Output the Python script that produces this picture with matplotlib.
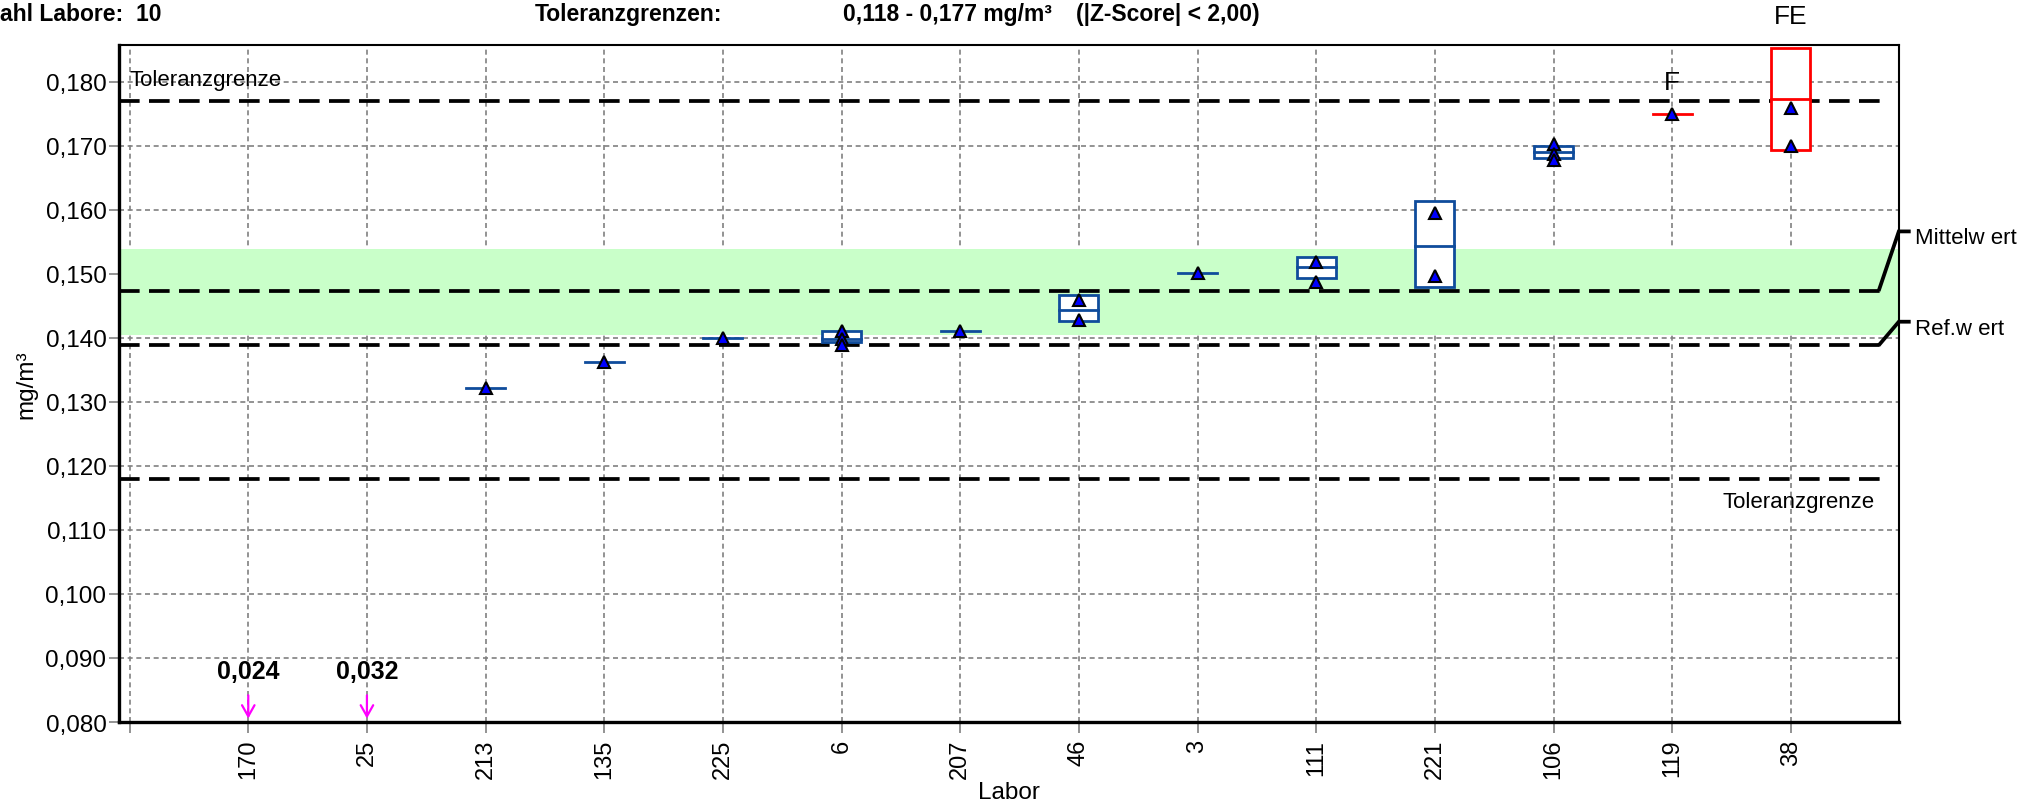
import matplotlib
matplotlib.use("Agg")
import matplotlib.pyplot as plt
from matplotlib.ticker import FixedLocator, FuncFormatter

# ---------------- data ----------------
labs = ['170', '25', '213', '135', '225', '6', '207', '46', '3', '111', '221', '106', '119', '38']
values = [
    [0.024], [0.032], [0.1322], [0.1362], [0.1399],
    [0.1411, 0.1398, 0.1388], [0.1411], [0.1459, 0.1428], [0.1501],
    [0.1518, 0.1487], [0.1594, 0.1497], [0.1702, 0.1687, 0.1677],
    [0.1750], [0.1759, 0.1700],
]
box_low  = [None, None, 0.1322, 0.1362, 0.1399, 0.1393, 0.1411, 0.1426, 0.1501, 0.1494, 0.1479, 0.1680, 0.1750, 0.1693]
box_mid  = [None, None, 0.1322, 0.1362, 0.1399, 0.1398, 0.1411, 0.1444, 0.1501, 0.1510, 0.1544, 0.1690, 0.1750, 0.1772]
box_high = [None, None, 0.1322, 0.1362, 0.1399, 0.1411, 0.1411, 0.1467, 0.1501, 0.1526, 0.1613, 0.1700, 0.1750, 0.1853]
flags    = ['', '', '', '', '', '', '', '', '', '', '', '', 'F', 'FE']
offscale_labels = ['0,024', '0,032']

tol_low, tol_high = 0.118, 0.177
mittelwert = 0.1473
refwert = 0.1388
band_low, band_high = 0.1405, 0.1539
y_ticks = [0.080, 0.090, 0.100, 0.110, 0.120, 0.130, 0.140, 0.150, 0.160, 0.170, 0.180]

# ---------------- style ----------------
plt.rcParams['font.family'] = ['Liberation Sans', 'DejaVu Sans']
NARROW = ['Liberation Sans Narrow', 'Liberation Sans', 'DejaVu Sans']
BLUE_BOX = '#0F4C9C'
RED = '#FF0000'

fig = plt.figure(figsize=(20.33, 8.12), dpi=100)
ax = fig.add_axes([0.0585, 0.1096, 0.934 - 0.0585, 0.9433 - 0.1096])

xpos = list(range(1, len(labs) + 1))
ax.set_xlim(-0.09, 14.91)
ax.set_ylim(0.080, 0.1857)

# grid
ax.set_axisbelow(True)
ax.xaxis.set_major_locator(FixedLocator([0] + xpos))
ax.set_xticklabels([''] + labs, rotation=90, fontsize=17)
ax.yaxis.set_major_locator(FixedLocator(y_ticks))
ax.yaxis.set_major_formatter(FuncFormatter(lambda v, p: f"{v:.3f}".replace('.', ',')))
ax.grid(True, color='#808080', linestyle=(0, (3, 2.2)), linewidth=1.2, zorder=0)
ax.tick_params(axis='y', direction='out', length=7, width=1.2, color='#808080', labelsize=17.5, pad=2)
ax.tick_params(axis='x', direction='out', length=8, width=1.2, color='#808080', labelsize=17, pad=4)

for s in ['left', 'bottom']:
    ax.spines[s].set_linewidth(2.4)
for s in ['top', 'right']:
    ax.spines[s].set_linewidth(1.5)

# green band
ax.axhspan(band_low, band_high, color='#C9FFC9', zorder=1, lw=0)

# dashed reference lines
x_line_end = 14.81
for yv in [tol_low, tol_high, mittelwert, refwert]:
    ln, = ax.plot([-0.09, x_line_end], [yv, yv], color='black', lw=2.7, zorder=2, solid_capstyle='butt')
    ln.set_dashes((5.5, 2.5))

ax.text(0.0, 0.1803, 'Toleranzgrenze', fontsize=16, ha='left', va='center', zorder=3)
ax.text(14.71, 0.1145, 'Toleranzgrenze', fontsize=16, ha='right', va='center', zorder=3)

# connectors for Mittelwert / Ref.wert
for yv, ylab, txt in [(mittelwert, 0.1566, 'Mittelw ert'), (refwert, 0.1425, 'Ref.w ert')]:
    ax.plot([14.74, 14.91, 15.01], [yv, ylab, ylab], color='black', lw=2.7, clip_on=False,
            solid_capstyle='butt', solid_joinstyle='miter', zorder=4)
    ax.text(15.05, ylab - 0.0010, txt, fontsize=16, ha='left', va='center', clip_on=False)

# boxes and points
bw = 0.33
for i, x in enumerate(xpos):
    col = RED if flags[i] else BLUE_BOX
    lo, mid, hi = box_low[i], box_mid[i], box_high[i]
    if lo is None:
        continue
    if hi - lo > 1e-9:
        rect = plt.Rectangle((x - bw / 2, lo), bw, hi - lo, facecolor='white', edgecolor=col,
                             lw=2.0, zorder=5, joinstyle='miter')
        ax.add_patch(rect)
    ax.plot([x - bw / 2, x + bw / 2], [mid, mid], color=col, lw=2.0, zorder=6)
    ax.plot([x] * len(values[i]), values[i], linestyle='none', marker='^', ms=9,
            mfc='#0000FF', mec='black', mew=1.5, zorder=7)

# off-scale values
for i, lab in enumerate(offscale_labels):
    x = xpos[i]
    ax.annotate('', xy=(x, 0.0801), xytext=(x, 0.0846),
                arrowprops=dict(arrowstyle='->,head_length=0.8,head_width=0.45', color='#FF00FF', lw=1.6),
                zorder=8)
    ax.text(x, 0.0880, lab, fontsize=18, fontweight='bold', ha='center', va='center')

# flags
ax.text(xpos[12], 0.1800, flags[12], fontsize=19, ha='center', va='center')
ax.text(xpos[13], 0.1902, flags[13], fontsize=19, ha='center', va='center', clip_on=False)

# axis labels
ax.set_xlabel('Labor', fontsize=17.5, labelpad=2)
ax.set_ylabel('mg/m³', fontsize=17.5, labelpad=6)

# header
fig.text(0.0, 0.982, 'ahl Labore:  10', fontsize=16.5, fontweight='bold', ha='left', va='center', family=NARROW)
fig.text(535 / 2033, 0.982, 'Toleranzgrenzen:', fontsize=16.5, fontweight='bold', ha='left', va='center', family=NARROW)
fig.text(843 / 2033, 0.982, '0,118 - 0,177 mg/m³', fontsize=16.5, fontweight='bold', ha='left', va='center', family=NARROW)
fig.text(1076 / 2033, 0.982, '(|Z-Score| < 2,00)', fontsize=16.5, fontweight='bold', ha='left', va='center', family=NARROW)

fig.savefig('out.png', dpi=100)
